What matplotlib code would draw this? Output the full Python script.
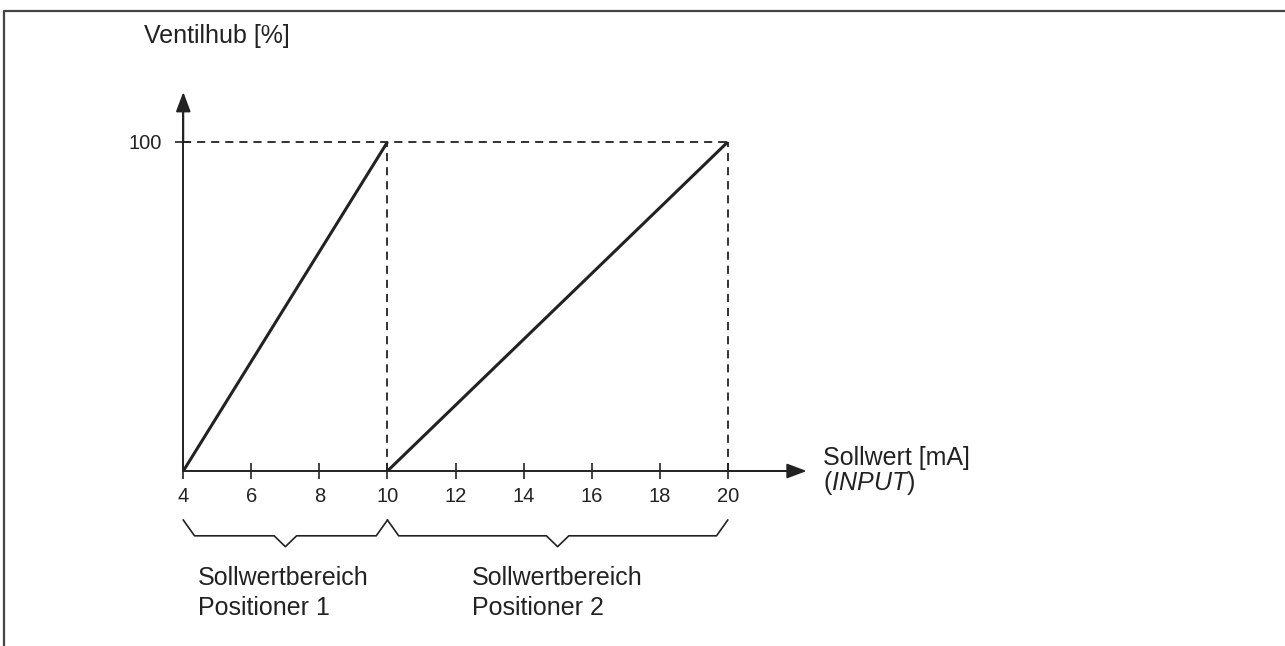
import matplotlib
matplotlib.use("Agg")
import matplotlib.pyplot as plt
from matplotlib.lines import Line2D

plt.rcParams['font.family'] = ['Liberation Sans', 'DejaVu Sans']
plt.rcParams['mathtext.fontset'] = 'custom'
plt.rcParams['mathtext.rm'] = 'Liberation Sans'
plt.rcParams['mathtext.it'] = 'Liberation Sans:italic'

# Kennlinien der beiden Positioner (Sollwert mA -> Ventilhub %)
sollwert_p1 = [4, 10]
hub_p1 = [0, 100]
sollwert_p2 = [10, 20]
hub_p2 = [0, 100]

x_ticks = [4, 6, 8, 10, 12, 14, 16, 18, 20]
y_ticks = [100]

# Sollwertbereiche fuer die Klammern
bereiche = [(4, 10), (10, 20)]
bereich_texte = [("Sollwertbereich", "Positioner 1"), ("Sollwertbereich", "Positioner 2")]
text_x = [4.44, 12.47]

ink = '#222222'

fig = plt.figure(figsize=(12.85, 6.46), dpi=100)
ax = fig.add_axes([0, 0, 1, 1])
ax.set_xlim(-1.386, 36.375)
ax.set_ylim(-53.19, 143.16)
ax.patch.set_visible(False)

# Achsen durch den Ursprung (4 mA / 0 %)
for side in ['top', 'right']:
    ax.spines[side].set_visible(False)
ax.spines['left'].set_position(('data', 4))
ax.spines['bottom'].set_position(('data', 0))
ax.spines['left'].set_bounds(0, 113)
ax.spines['bottom'].set_bounds(4, 22)
for side in ['left', 'bottom']:
    ax.spines[side].set_linewidth(1.4)
    ax.spines[side].set_color(ink)

ax.set_xticks(x_ticks)
ax.set_yticks(y_ticks)
ax.tick_params(direction='inout', length=11, width=1.2, color=ink,
               labelcolor=ink, labelsize=14.5)
ax.tick_params(axis='x', pad=6)
ax.tick_params(axis='y', pad=10)

# Pfeilspitzen
arrow = dict(arrowstyle='-|>,head_length=0.8,head_width=0.3', mutation_scale=15,
             color=ink, lw=1.4, shrinkA=0, shrinkB=0)
ax.annotate('', xy=(22.32, 0), xytext=(20, 0), arrowprops=arrow)
ax.annotate('', xy=(4, 115.2), xytext=(4, 100), arrowprops=arrow)

# Hilfslinien gestrichelt
dash = dict(color=ink, lw=1.3, dashes=(4.5, 3.3))
ax.plot([4, 20], [100, 100], **dash)
ax.plot([10, 10], [0, 100], **dash)
ax.plot([20, 20], [0, 100], **dash)

# Kennlinien
ax.plot(sollwert_p1, hub_p1, color=ink, lw=2.2, solid_capstyle='butt')
ax.plot(sollwert_p2, hub_p2, color=ink, lw=2.2, solid_capstyle='butt')

# Klammern unter der x-Achse
y_top, y_mid, y_tip = -14.9, -19.7, -23.0
dx = 0.33
for (a, b), (zeile1, zeile2), tx in zip(bereiche, bereich_texte, text_x):
    m = (a + b) / 2
    ax.plot([a, a + dx, m - dx, m, m + dx, b - dx, b],
            [y_top, y_mid, y_mid, y_tip, y_mid, y_mid, y_top],
            color=ink, lw=1.2)
    ax.text(tx, -34.65, zeile1, fontsize=18, color=ink, ha='left', va='baseline')
    ax.text(tx, -43.8, zeile2, fontsize=18, color=ink, ha='left', va='baseline')

# Achsenbeschriftungen
ax.text(2.85, 130.2, "Ventilhub [%]", fontsize=18, color=ink, ha='left', va='baseline')
ax.text(22.8, 1.8, "Sollwert [mA]", fontsize=18, color=ink, ha='left', va='baseline')
ax.text(22.8, -5.8, r"($\it{INPUT}$)", fontsize=18, color=ink, ha='left', va='baseline')

# Rahmen oben und links
fig.add_artist(Line2D([4 / 1285, 4 / 1285, 1], [0, 1 - 11 / 646, 1 - 11 / 646],
                      color='#444444', lw=1.6))

fig.savefig('out.png', dpi=100, facecolor='white')
